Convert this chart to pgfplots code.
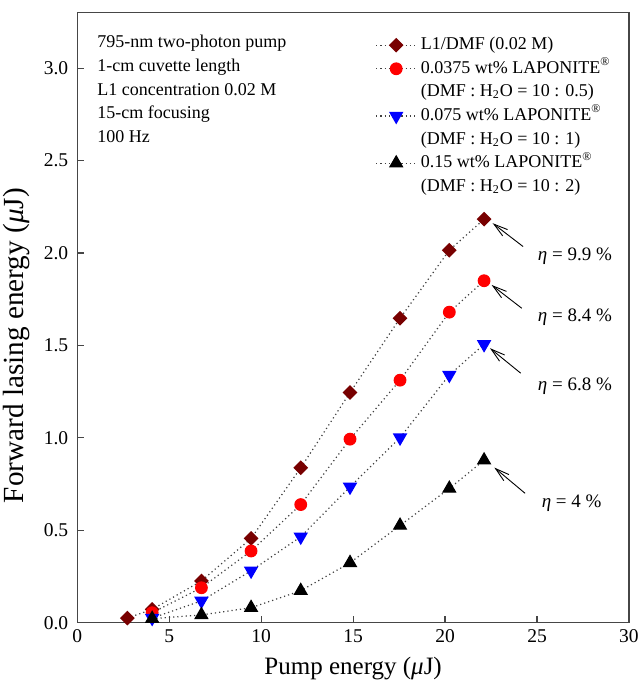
\documentclass[border=0pt]{standalone}
\usepackage{fontspec}
\setmainfont{Liberation Serif}
\usepackage{pgfplots}
\pgfplotsset{compat=1.18}
\usetikzlibrary{arrows.meta}
\definecolor{maroon}{RGB}{120,0,0}
\definecolor{axgray}{RGB}{70,70,70}
\begin{document}
\begin{tikzpicture}
\begin{axis}[
  name=ax,
  scale only axis,
  width=275.85pt, height=305pt,
  xmin=0, xmax=30, ymin=0, ymax=3.3,
  xtick={0,5,...,30},
  ytick={0,0.5,...,3.0},
  yticklabel style={xshift=-1pt, /pgf/number format/.cd,fixed,fixed zerofill,precision=1},
  /pgf/number format/assume math mode=true,
  xtick pos=bottom, ytick pos=left,
  tick align=inside,
  major tick length=3.5pt,
  axis line style={axgray, line width=0.75pt},
  every tick/.style={axgray, line width=0.6pt},
  tick label style={font=\fontsize{9.75}{11}\selectfont},
  xlabel={Pump energy ({\itshape μ}J)},
  ylabel={Forward lasing energy ({\itshape μ}J)},
  xlabel style={font=\fontsize{12.5}{14}\selectfont},
  ylabel style={font=\fontsize{14.6}{16}\selectfont, xshift=-14pt},
  legend style={at={(0.54,0.963)}, anchor=north west, draw=none, fill=none,
    inner sep=0pt, row sep=2.3pt,
    font=\fontsize{9}{10}\selectfont,
    nodes={inner ysep=0pt, inner xsep=2pt, text height=7pt, text depth=2.5pt}},
  legend cell align=left,
  legend image code/.code={\draw[mark repeat=2,mark phase=2,#1] plot coordinates {(0pt,0pt)(10pt,0pt)(20pt,0pt)};},
  every axis plot/.append style={line width=0.6pt, dash pattern=on 0.6pt off 1.5pt, black!75},
]
\addplot[mark=square*, mark size=2.3pt, mark options={rotate=45, solid, fill=maroon, draw=maroon}] coordinates {
(2.72,0.025)(4.07,0.072)(6.75,0.226)(9.45,0.456)(12.15,0.838)(14.83,1.245)(17.55,1.647)(20.23,2.015)(22.12,2.183)};
\addlegendentry{L1/DMF (0.02 M)}
\addplot[mark=*, mark size=2.9pt, mark options={solid, fill=red, draw=red}] coordinates {
(4.07,0.054)(6.75,0.189)(9.45,0.388)(12.15,0.639)(14.83,0.993)(17.55,1.312)(20.23,1.68)(22.12,1.85)};
\addlegendentry{0.0375 wt\% LAPONITE\textsuperscript{\textregistered}}
\addlegendimage{empty legend}
\addlegendentry{(DMF : H\textsubscript{2}O = 10 : 0.5)}
\addplot[mark=triangle*, mark size=3.6pt, mark options={solid, rotate=180, fill=blue, draw=blue}] coordinates {
(4.07,0.025)(6.75,0.118)(9.45,0.281)(12.15,0.465)(14.83,0.735)(17.55,1.001)(20.23,1.340)(22.12,1.506)};
\addlegendentry{0.075 wt\% LAPONITE\textsuperscript{\textregistered}}
\addlegendimage{empty legend}
\addlegendentry{(DMF : H\textsubscript{2}O = 10 : 1)}
\addplot[mark=triangle*, mark size=3.6pt, mark options={solid, fill=black, draw=black}] coordinates {
(4.07,0.022)(6.75,0.042)(9.45,0.081)(12.15,0.173)(14.83,0.324)(17.55,0.526)(20.23,0.726)(22.12,0.879)};
\addlegendentry{0.15 wt\% LAPONITE\textsuperscript{\textregistered}}
\addlegendimage{empty legend}
\addlegendentry{(DMF : H\textsubscript{2}O = 10 : 2)}
\node[anchor=north west, align=left, inner sep=0pt, font=\fontsize{9}{11.85}\selectfont] at (axis cs:1.07,3.18)
 {795-nm two-photon pump\\1-cm cuvette length\\L1 concentration 0.02 M\\15-cm focusing\\100 Hz};
\draw[-{Straight Barb[length=7pt,width=4pt]}, line width=0.45pt, black] (axis cs:24.24,2.035) -- (axis cs:22.59,2.161);
\draw[-{Straight Barb[length=7pt,width=4pt]}, line width=0.45pt, black] (axis cs:24.17,1.701) -- (axis cs:22.53,1.827);
\draw[-{Straight Barb[length=7pt,width=4pt]}, line width=0.45pt, black] (axis cs:24.11,1.350) -- (axis cs:22.44,1.485);
\draw[-{Straight Barb[length=7pt,width=4pt]}, line width=0.45pt, black] (axis cs:24.35,0.700) -- (axis cs:22.68,0.839);
\begin{scope}[every node/.style={font=\fontsize{9.5}{11}\selectfont, inner sep=0pt}]
\node at (axis cs:27.06,1.98) {{\itshape η} = 9.9 \%};
\node at (axis cs:27.06,1.654) {{\itshape η} = 8.4 \%};
\node at (axis cs:27.06,1.282) {{\itshape η} = 6.8 \%};
\node at (axis cs:26.88,0.646) {{\itshape η} = 4 \%};
\end{scope}
\end{axis}
\pgfresetboundingbox
\path[use as bounding box] ([shift={(-38.65pt,-29.15pt)}]ax.south west) rectangle ([shift={(5.5pt,6.35pt)}]ax.north east);
\end{tikzpicture}
\end{document}
